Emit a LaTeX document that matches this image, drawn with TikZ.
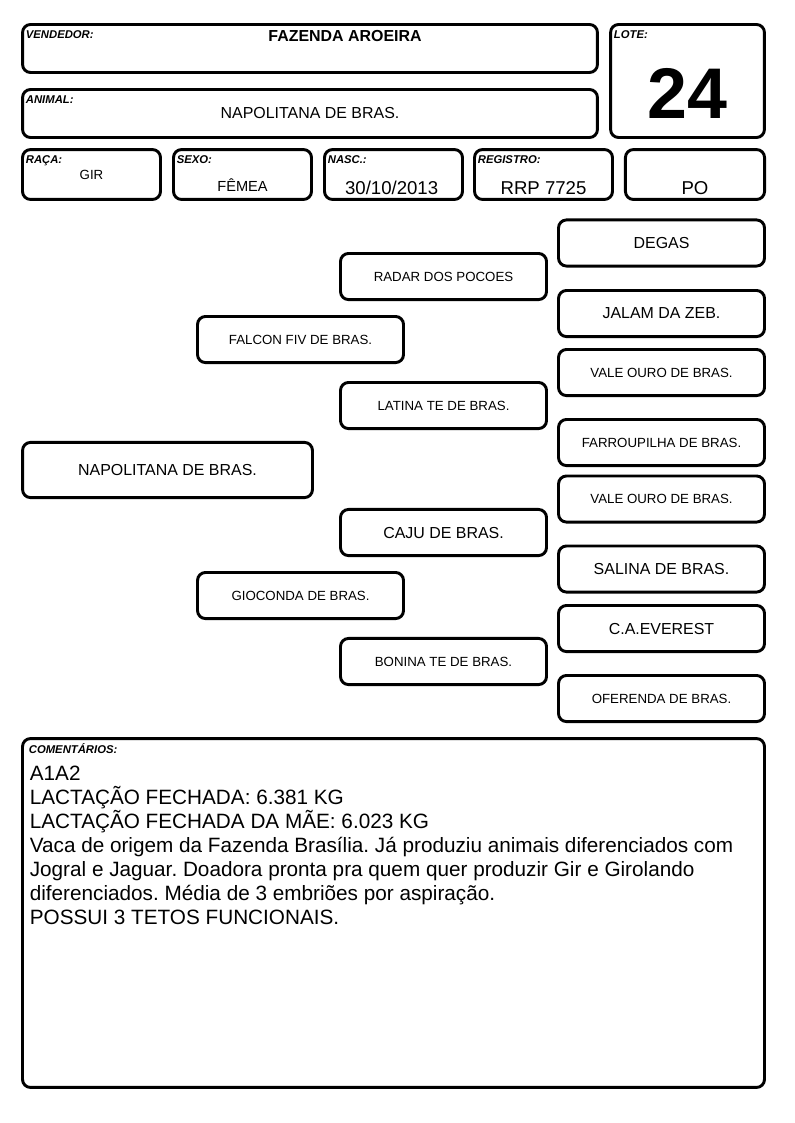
\documentclass[tikz,border=0pt]{standalone}
\usepackage{fontspec}
\setmainfont{Liberation Sans}
\frenchspacing
\tikzstyle{field} = [rectangle, rounded corners=6pt, draw=black, line width=2.2pt]
\tikzstyle{wide} = [field, minimum width=15.21cm, minimum height=1.27cm, font=\fontsize{12}{14}\selectfont]
\tikzstyle{cell} = [field, minimum width=3.65cm, minimum height=1.32cm]
\tikzstyle{lotebox} = [field, minimum width=4.07cm, minimum height=2.99cm]
\tikzstyle{root} = [field, minimum width=7.67cm, minimum height=1.46cm, font=\fontsize{12}{14}\selectfont]
\tikzstyle{ancestor} = [field, minimum width=5.45cm, minimum height=1.22cm, font=\fontsize{10}{12}\selectfont]
\tikzstyle{notes} = [field, minimum width=19.63cm, minimum height=9.23cm]
\tikzstyle{tag} = [anchor=north west, inner sep=0pt, font=\fontsize{8.5}{9}\selectfont\bfseries\itshape]
\tikzstyle{value} = [anchor=base, inner sep=0pt, font=\fontsize{14}{16}\selectfont]
\begin{document}
\begin{tikzpicture}[node distance=2cm]
\useasboundingbox (0,0) rectangle (21.008,-29.712);

% header
\node (vend) [wide] at (8.202,-1.283) {};
\node (animal) [wide, below of=vend, yshift=0.28cm] {NAPOLITANA DE BRAS.};
\node (lote) [lotebox, right of=vend, xshift=7.988cm, yshift=-0.86cm] {};
\node (raca) [cell, below of=animal, xshift=-5.781cm, yshift=0.386cm] {};
\node (sexo) [cell, right of=raca, xshift=1.995cm] {};
\node (nasc) [cell, right of=sexo, xshift=1.995cm] {};
\node (registro) [cell, right of=nasc, xshift=1.969cm] {};
\node (po) [cell, minimum width=3.68cm, right of=registro, xshift=2.008cm] {};

\node (vendtag) [tag] at ([xshift=0.12cm,yshift=-0.2cm]vend.north west) {VENDEDOR:};
\node (animaltag) [tag] at ([xshift=0.12cm,yshift=-0.2cm]animal.north west) {ANIMAL:};
\node (lotetag) [tag] at ([xshift=0.12cm,yshift=-0.2cm]lote.north west) {LOTE:};
\node (racatag) [tag] at ([xshift=0.12cm,yshift=-0.2cm]raca.north west) {RAÇA:};
\node (sexotag) [tag] at ([xshift=0.12cm,yshift=-0.2cm]sexo.north west) {SEXO:};
\node (nasctag) [tag] at ([xshift=0.12cm,yshift=-0.2cm]nasc.north west) {NASC.:};
\node (registrotag) [tag] at ([xshift=0.12cm,yshift=-0.2cm]registro.north west) {REGISTRO:};

\node (vendval) [value, font=\fontsize{12}{14}\selectfont\bfseries] at ([xshift=0.926cm,yshift=-0.497cm]vend.north) {FAZENDA AROEIRA};
\node (loteval) [value, font=\fontsize{54}{60}\selectfont\bfseries] at ([yshift=-0.987cm]lote.center) {24};
\node (racaval) [value, font=\fontsize{10}{12}\selectfont] at ([yshift=0.561cm]raca.south) {GIR};
\node (sexoval) [value, font=\fontsize{11}{13}\selectfont] at ([yshift=0.251cm]sexo.south) {FÊMEA};
\node (nascval) [value] at ([xshift=-0.05cm,yshift=0.172cm]nasc.south) {30/10/2013};
\node (registroval) [value] at ([yshift=0.172cm]registro.south) {RRP 7725};
\node (poval) [value] at ([yshift=0.172cm]po.south) {PO};

% pedigree
\node (napol) [root, below of=raca, xshift=2.011cm, yshift=-5.818cm] {NAPOLITANA DE BRAS.};
\node (falcon) [ancestor, right of=napol, xshift=1.519cm, yshift=3.452cm] {FALCON FIV DE BRAS.};
\node (gioconda) [ancestor, right of=napol, xshift=1.519cm, yshift=-3.321cm] {GIOCONDA DE BRAS.};
\node (radar) [ancestor, right of=falcon, xshift=1.783cm, yshift=1.667cm] {RADAR DOS POCOES};
\node (latina) [ancestor, right of=falcon, xshift=1.783cm, yshift=-1.746cm] {LATINA TE DE BRAS.};
\node (caju) [ancestor, font=\fontsize{12}{14}\selectfont, right of=gioconda, xshift=1.783cm, yshift=1.667cm] {CAJU DE BRAS.};
\node (bonina) [ancestor, right of=gioconda, xshift=1.783cm, yshift=-1.746cm] {BONINA TE DE BRAS.};
\node (degas) [ancestor, font=\fontsize{12}{14}\selectfont, right of=radar, xshift=3.768cm, yshift=0.887cm] {DEGAS};
\node (jalam) [ancestor, font=\fontsize{12}{14}\selectfont, right of=radar, xshift=3.768cm, yshift=-0.979cm] {JALAM DA ZEB.};
\node (valeouro) [ancestor, right of=latina, xshift=3.768cm, yshift=0.873cm] {VALE OURO DE BRAS.};
\node (farroupilha) [ancestor, right of=latina, xshift=3.768cm, yshift=-0.979cm] {FARROUPILHA DE BRAS.};
\node (valeouro2) [ancestor, right of=caju, xshift=3.768cm, yshift=0.886cm] {VALE OURO DE BRAS.};
\node (salina) [ancestor, font=\fontsize{12}{14}\selectfont, right of=caju, xshift=3.768cm, yshift=-0.966cm] {SALINA DE BRAS.};
\node (everest) [ancestor, font=\fontsize{12}{14}\selectfont, right of=bonina, xshift=3.768cm, yshift=0.873cm] {C.A.EVEREST};
\node (oferenda) [ancestor, right of=bonina, xshift=3.768cm, yshift=-0.979cm] {OFERENDA DE BRAS.};

% comments
\node (notes) [notes, below of=napol, xshift=5.979cm, yshift=-9.721cm] {};
\node (notestag) [tag] at ([xshift=0.2cm,yshift=-0.17cm]notes.north west) {COMENTÁRIOS:};
\node (notestext) [anchor=north west, inner sep=0pt, align=left, font=\fontsize{15.6}{18.1}\selectfont] at ([xshift=0.225cm,yshift=-0.746cm]notes.north west) {A1A2\\LACTAÇÃO FECHADA: 6.381 KG\\LACTAÇÃO FECHADA DA MÃE: 6.023 KG\\Vaca de origem da Fazenda Brasília. Já produziu animais diferenciados com\\Jogral e Jaguar. Doadora pronta pra quem quer produzir Gir e Girolando\\diferenciados. Média de 3 embriões por aspiração.\\POSSUI 3 TETOS FUNCIONAIS.};

\end{tikzpicture}
\end{document}
